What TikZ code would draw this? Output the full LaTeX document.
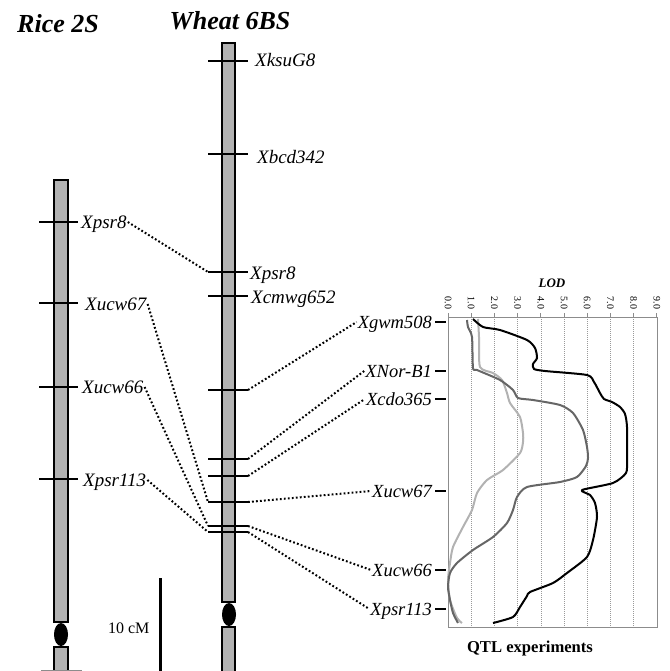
\documentclass[tikz,border=0pt]{standalone}
\usepackage{fontspec}
\setmainfont{Liberation Serif}
\usetikzlibrary{positioning}

\tikzset{
	chrom/.style={draw=black, line width=1.6pt, fill=black!30},
	cen/.style={fill=black},
	bar/.style={line width=1.4pt},
	title/.style={font=\fontsize{26}{26}\selectfont\bfseries\itshape, anchor=base},
	marker/.style={font=\fontsize{19}{19}\selectfont\itshape, inner sep=1pt, text depth=0pt},
	qmarker/.style={marker, font=\fontsize{18.5}{18.5}\selectfont\itshape, anchor=east},
	link/.style={line width=2pt, dash pattern=on 1.8pt off 2.2pt},
	grid/.style={black!40, line width=0.6pt, dash pattern=on 0.8pt off 1.2pt},
	frame/.style={black!45, line width=1pt},
	lod/.style={line width=2pt, line join=round, smooth, tension=0.4},
}

\begin{document}
\begin{tikzpicture}[x=1pt, y=-1pt]
	\useasboundingbox (0,0) rectangle (669,671);
	\clip (0,0) rectangle (669,671);

	% titles
	\node (rice) [title] at (58,33) {Rice 2S};
	\node (wheat) [title] at (230,30) {Wheat 6BS};

	% rice chromosome
	\draw [chrom] (54,180) rectangle (68,622);
	\fill [cen] (61,634.5) ellipse (7 and 11.5);
	\draw [chrom] (54,647) rectangle (68,680);
	\draw [black!45, line width=1pt] (41,670) -- (82,670);

	\foreach \y in {222,303,387,479}
		\draw [bar] (39,\y) -- (78,\y);
	\node (rpsr8) [marker, anchor=west] at (80,222) {Xpsr8};
	\node (rucw67) [marker, anchor=west] at (84,304) {Xucw67};
	\node (rucw66) [marker, anchor=west] at (81,387) {Xucw66};
	\node (rpsr113) [marker, anchor=west] at (82,480) {Xpsr113};

	% wheat chromosome
	\draw [chrom] (222,43) rectangle (235,602);
	\fill [cen] (229,614.5) ellipse (7 and 11.5);
	\draw [chrom] (222,627) rectangle (235,680);

	\foreach \y/\n in {61/ksu, 154/bcd, 272/psr8, 296/cmwg, 390/gwm, 459/nor,
		476/cdo, 502/ucw67, 526/ucw66, 532/psr113}
		\draw [bar] (208,\y) coordinate (\n-l) -- (248,\y) coordinate (\n-r);
	\node (wksu) [marker, anchor=west] at (254,60) {XksuG8};
	\node (wbcd) [marker, anchor=west] at (256,157) {Xbcd342};
	\node (wpsr8) [marker, anchor=west] at (249,273) {Xpsr8};
	\node (wcmwg) [marker, anchor=west] at (250,297) {Xcmwg652};

	% QTL markers
	\node (qgwm) [qmarker] at (433,322) {Xgwm508};
	\node (qnor) [qmarker] at (433,371) {XNor-B1};
	\node (qcdo) [qmarker] at (433,399) {Xcdo365};
	\node (qucw67) [qmarker] at (433,491) {Xucw67};
	\node (qucw66) [qmarker] at (433,570) {Xucw66};
	\node (qpsr113) [qmarker] at (433,609) {Xpsr113};
	\foreach \q in {qgwm,qnor,qcdo,qucw67,qucw66,qpsr113}
		\draw [line width=1.2pt] (\q.east) ++(2,0) -- ++(11,0);

	\path [link]
		(rpsr8.east) edge (psr8-l)
		(rucw67.east) edge (ucw67-l)
		(rucw66.east) edge (ucw66-l)
		(rpsr113.east) edge (psr113-l)
		(gwm-r) edge (qgwm.west)
		(nor-r) edge (qnor.west)
		(cdo-r) edge (qcdo.west)
		(ucw67-r) edge (qucw67.west)
		(ucw66-r) edge (qucw66.west)
		(psr113-r) edge (qpsr113.west);

	% scale
	\draw [line width=3pt] (160,578) coordinate (sc) -- (160,675);
	\node (cm) [font=\fontsize{16}{16}\selectfont, anchor=base east] at (153,633) {10 cM};

	% LOD chart
	\foreach \v in {1,...,8}
		\draw [grid] ({448+23.2*\v},317) -- ({448+23.2*\v},627);
	\draw [frame] (448,317) rectangle (657,627);
	\foreach \v in {0,...,9} {
		\draw [black!45, line width=0.8pt] ({448+23.2*\v},313) -- ({448+23.2*\v},317);
		\node [rotate=-90, font=\fontsize{10}{10}\selectfont, inner sep=0pt] at ({448+23.2*\v},303) {\v.0};
	}
	\node (lodt) [font=\fontsize{13}{13}\selectfont\bfseries\itshape] at (552,283) {LOD};
	\node (qtl) [font=\fontsize{16.6}{16.6}\selectfont\bfseries, anchor=base] at (530,652) {QTL experiments};

	\draw [lod, black!30] plot coordinates {(478,319) (479,337) (480,367) (493,373)
		(502,380) (507,393) (510,403) (520,417) (523,433) (523,442) (520,453)
		(503,470) (487,480) (477,493) (472,510) (463,527) (453,547) (450,563)
		(448,580) (450,600) (457,618) (462,623)};
	\draw [lod, black!60] plot coordinates {(467,320) (468,327) (472,337) (473,368)
		(477,370) (500,380) (513,390) (518,398) (533,400) (560,405) (573,413)
		(583,430) (587,447) (588,458) (586,466) (577,477) (560,482) (527,487)
		(517,497) (513,510) (507,523) (493,537) (473,550) (457,563) (450,573)
		(448,587) (450,600) (453,613) (458,623)};
	\draw [lod, black] plot coordinates {(473,319) (483,327) (500,330) (527,340)
		(535,348) (537,358) (533,364) (534,369) (545,371) (587,375) (594,382)
		(600,393) (604,399) (612,402) (620,407) (625,414) (627,427) (627,460)
		(626,473) (613,483) (582,490) (590,495) (595,503) (597,517) (593,540)
		(587,557) (567,573) (553,583) (530,592) (527,596) (520,607) (513,617)
		(493,623)};

\end{tikzpicture}
\end{document}
